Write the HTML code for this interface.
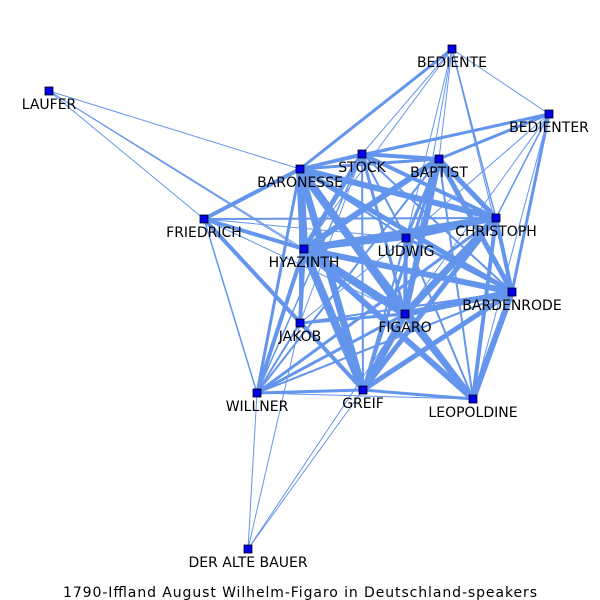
<!DOCTYPE html>
<html><head><meta charset="utf-8"><style>
html,body{margin:0;padding:0;background:#fff;}
svg{display:block;font-family:"DejaVu Sans","Liberation Sans",sans-serif;}
</style></head><body>
<svg id="chart" width="600" height="600" viewBox="0 0 600 600" xmlns="http://www.w3.org/2000/svg">
<g id="edges"></g>
<g id="nodes"></g>
<g id="labels"></g>
<text x="300" y="597" text-anchor="middle" font-size="14" fill="#000" textLength="474" lengthAdjust="spacing">1790-Iffland August Wilhelm-Figaro in Deutschland-speakers</text>
</svg>
<script>
const nodeNames = ["BEDIENTE","LAUFER","BEDIENTER","STOCK","BAPTIST","BARONESSE","FRIEDRICH","CHRISTOPH","LUDWIG","HYAZINTH","BARDENRODE","FIGARO","JAKOB","WILLNER","GREIF","LEOPOLDINE","DER ALTE BAUER"];
const nodeX = [452,49,549,362,439,300,204,496,406,304,512,405,300,257,363,473,248];
const nodeY = [49,91,114,154,159,169,219,218,238,249,292,314,323,393,390,399,549];
const edgeSource = ["LAUFER","LAUFER","LAUFER","LAUFER",
"BEDIENTE","BEDIENTE","BEDIENTE","BEDIENTE","BEDIENTE","BEDIENTE","BEDIENTE","BEDIENTE","BEDIENTE",
"BEDIENTER","BEDIENTER","BEDIENTER","BEDIENTER","BEDIENTER","BEDIENTER","BEDIENTER","BEDIENTER",
"DER ALTE BAUER","DER ALTE BAUER","DER ALTE BAUER","DER ALTE BAUER",
"FRIEDRICH","FRIEDRICH","FRIEDRICH","FRIEDRICH","FRIEDRICH","FRIEDRICH","FRIEDRICH","FRIEDRICH",
"BARONESSE","BARONESSE","BARONESSE","BARONESSE","BARONESSE","BARONESSE","BARONESSE","BARONESSE","BARONESSE","BARONESSE","BARONESSE",
"STOCK","STOCK","STOCK","STOCK","STOCK","STOCK","STOCK","STOCK","STOCK",
"BAPTIST","BAPTIST","BAPTIST","BAPTIST","BAPTIST","BAPTIST","BAPTIST","BAPTIST",
"CHRISTOPH","CHRISTOPH","CHRISTOPH","CHRISTOPH","CHRISTOPH","CHRISTOPH","CHRISTOPH",
"LUDWIG","LUDWIG","LUDWIG","LUDWIG","LUDWIG","LUDWIG",
"HYAZINTH","HYAZINTH","HYAZINTH","HYAZINTH","HYAZINTH","HYAZINTH",
"BARDENRODE","BARDENRODE","BARDENRODE","BARDENRODE","BARDENRODE",
"FIGARO","FIGARO","FIGARO","FIGARO",
"JAKOB","JAKOB","WILLNER","WILLNER","GREIF"];
const edgeTarget = ["BARONESSE","FRIEDRICH","HYAZINTH","FIGARO",
"BARONESSE","STOCK","BAPTIST","CHRISTOPH","BEDIENTER","LUDWIG","BARDENRODE","FIGARO","HYAZINTH",
"BARONESSE","BAPTIST","STOCK","CHRISTOPH","BARDENRODE","FIGARO","LEOPOLDINE","LUDWIG",
"WILLNER","JAKOB","GREIF","FIGARO",
"BARONESSE","CHRISTOPH","HYAZINTH","WILLNER","GREIF","JAKOB","LUDWIG","FIGARO",
"STOCK","BAPTIST","CHRISTOPH","LUDWIG","HYAZINTH","BARDENRODE","FIGARO","JAKOB","WILLNER","GREIF","LEOPOLDINE",
"BAPTIST","CHRISTOPH","LUDWIG","HYAZINTH","FIGARO","GREIF","BARDENRODE","JAKOB","WILLNER",
"CHRISTOPH","LUDWIG","HYAZINTH","BARDENRODE","FIGARO","GREIF","LEOPOLDINE","WILLNER",
"LUDWIG","HYAZINTH","BARDENRODE","FIGARO","GREIF","LEOPOLDINE","WILLNER",
"HYAZINTH","FIGARO","BARDENRODE","GREIF","LEOPOLDINE","JAKOB",
"BARDENRODE","FIGARO","JAKOB","WILLNER","GREIF","LEOPOLDINE",
"FIGARO","GREIF","LEOPOLDINE","WILLNER","JAKOB",
"GREIF","LEOPOLDINE","WILLNER","JAKOB",
"WILLNER","GREIF","GREIF","LEOPOLDINE","LEOPOLDINE"];
const edgeWeight = [1,1,1,1,
3,1,1,1.5,1,1,1,1,1,
3,3,1.5,1.5,3,1,1,1,
1,1,1,1,
4,2,4,1.5,4,1,1,1,
3,3,6,2,8,5,8,2,3,7,5,
4,4,2,5,3,2,2,1,1.5,
5,3,6,5,6,3,2,2,
5,7,4,7,5,4,3,
4,4,3,2,2,1,
6,8,4,4,8,6,
6,5,6,2,2,
7,6,3,3,
2,3,3,1,3];
const idx = n => nodeNames.indexOf(n);
const xPos = i => nodeX[i], yPos = i => nodeY[i];
const NS="http://www.w3.org/2000/svg";
const eg=document.getElementById('edges'), ng=document.getElementById('nodes'), lg=document.getElementById('labels');
edgeSource.forEach((s,k)=>{
  const a=idx(s), b=idx(edgeTarget[k]);
  const l=document.createElementNS(NS,'line');
  l.setAttribute('x1',xPos(a));l.setAttribute('y1',yPos(a));
  l.setAttribute('x2',xPos(b));l.setAttribute('y2',yPos(b));
  l.setAttribute('stroke','#6495ed');l.setAttribute('stroke-width',edgeWeight[k]);
  
  
  eg.appendChild(l);
});
nodeNames.forEach((n,i)=>{
  const r=document.createElementNS(NS,'rect');
  r.setAttribute('x',xPos(i)-4);r.setAttribute('y',yPos(i)-4);
  r.setAttribute('width',8);r.setAttribute('height',8);
  r.setAttribute('fill','#0000ee');r.setAttribute('stroke','#000');r.setAttribute('stroke-width',0.8);
  
  
  ng.appendChild(r);
  const t=document.createElementNS(NS,'text');
  t.setAttribute('x',xPos(i));t.setAttribute('y',yPos(i)+18);
  t.setAttribute('text-anchor','middle');t.setAttribute('font-size','14');
  t.textContent=n;
  
  
  lg.appendChild(t);
});
</script>
</body></html>
